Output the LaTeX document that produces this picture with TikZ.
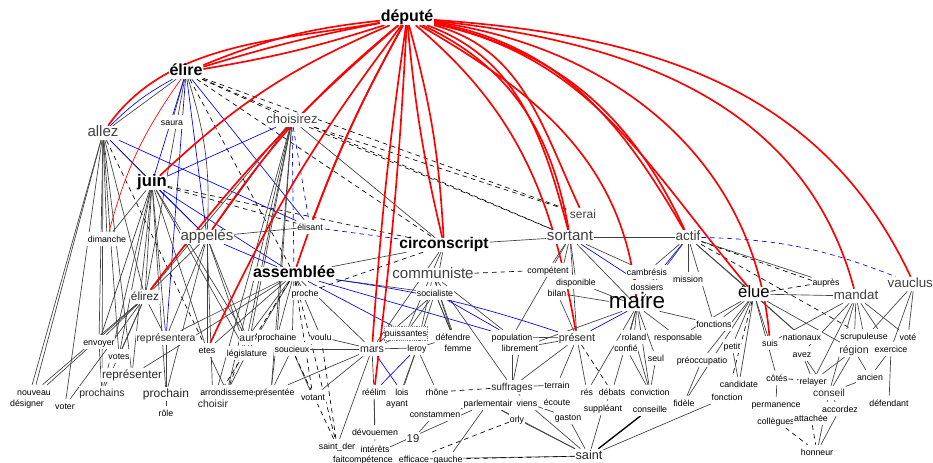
\documentclass[tikz,border=0pt]{standalone}
\usepackage{fontspec}
\setmainfont{Liberation Sans}
\usetikzlibrary{positioning,backgrounds}

\begin{document}
\begin{tikzpicture}[
  x=0.75pt, y=-0.75pt,
  every node/.style={fill=white,inner sep=0.5pt,text height=0.75em,text depth=0.2em},
  node distance=1.5pt,
  whub/.style={font=\bfseries\fontsize{12}{13}\selectfont},
  wbig/.style={font=\fontsize{11.3}{12}\selectfont,text=black!75},
  wmid/.style={font=\fontsize{8.5}{9}\selectfont,text=black!85},
  wsml/.style={font=\fontsize{6.6}{7}\selectfont},
  lnk/.style={black!75,line width=0.5pt},
  lnkb/.style={blue,line width=0.5pt},
  lnkd/.style={black,dash pattern=on 3.5pt off 3pt,line width=0.5pt},
  lnkbd/.style={blue,dash pattern=on 3.5pt off 3pt,line width=0.5pt},
  dep/.style={red,line width=1.25pt},
  ]
  \useasboundingbox (0,0) rectangle (933,463);

  \node[whub] (depute) at (407,18) {député};
  \node[whub] (elire) at (186,72) {élire};
  \node[wbig] (allez) at (103,133) {allez};
  \node[wsml] (saura) at (172,122) {saura};
  \node[wbig,font=\fontsize{9.7}{10}\selectfont] (choisirez) at (292,120) {choisirez};
  \node[whub,font=\bfseries\fontsize{12.5}{13}\selectfont] (juin) at (152,183) {juin};
  \node[wsml] (dimanche) at (107,239) {dimanche};
  \node[wbig] (appeles) at (207,237) {appelés};
  \node[wsml] (elisant) at (310,227) {élisant};
  \node[whub,font=\bfseries\fontsize{11.7}{12}\selectfont] (circonscript) at (444,245) {circonscript};
  \node[wbig,font=\fontsize{9}{10}\selectfont] (serai) at (583,215) {serai};
  \node[wbig] (sortant) at (570,237) {sortant};
  \node[wbig,font=\fontsize{10.2}{11}\selectfont] (actif) at (688,237) {actif};
  \node[whub] (assemblee) at (294,274) {assemblée};
  \node[wbig] (communiste) at (433,275) {communiste};
  \node[wsml] (competent) at (548,270) {compétent};
  \node[wsml] (cambresis) at (647,272) {cambrésis};
  \node[wsml, below=0.5pt of cambresis] (dossiers) {dossiers};
  \node[wsml] (disponible) at (576,282) {disponible};
  \node[wsml] (bilan) at (557,293) {bilan};
  \node[wsml] (mission) at (688,279) {mission};
  \node[font=\fontsize{16.8}{17}\selectfont,inner sep=0pt,text height=0.55em] (maire) at (637,306) {maire};
  \node[font=\fontsize{12.5}{13}\selectfont] (elue) at (754,294) {élue};
  \node[wsml] (aupres) at (826,282) {auprès};
  \node[wbig,font=\fontsize{10}{11}\selectfont] (mandat) at (856,296) {mandat};
  \node[wbig,font=\fontsize{10}{11}\selectfont] (vaucluse) at (914,284) {vaucluse};
  \node[wmid,font=\fontsize{8.8}{9}\selectfont] (elirez) at (145,297) {élirez};
  \node[wsml] (proche) at (305,293) {proche};
  \node[wsml] (socialiste) at (435,293) {socialiste};
  \node[wsml] (fonctions) at (714,324) {fonctions};
  \node[wsml] (envoyer) at (99,342) {envoyer};
  \node[wsml] (votes) at (119,356) {votes};
  \node[wmid,font=\fontsize{7.8}{8}\selectfont] (representera) at (166,338) {représentera};
  \node[wsml] (etes) at (207,350) {etes};
  \node[wmid,font=\fontsize{7.8}{8}\selectfont] (aur) at (247,338) {aur};
  \node[wsml] (prochaine) at (277,337) {prochaine};
  \node[wsml] (voulu) at (321,337) {voulu};
  \node[wsml] (legislature) at (247,353) {législature};
  \node[wsml] (soucieux) at (292,349) {soucieux};
  \node[wsml,draw=black!50,densely dotted] (puissantes) at (406,333) {puissantes};
  \node[wsml] (defendre) at (453,337) {défendre};
  \node[wsml] (femme) at (458,348) {femme};
  \node[wmid,font=\fontsize{8}{9}\selectfont] (mars) at (372,349) {mars};
  \node[wsml] (leroy) at (417,348) {leroy};
  \node[wsml] (population) at (512,337) {population};
  \node[wsml] (librement) at (520,348) {librement};
  \node[wmid,font=\fontsize{8.1}{9}\selectfont] (present) at (577,338) {présent};
  \node[wsml] (roland) at (634,337) {roland};
  \node[wsml] (responsable) at (678,337) {responsable};
  \node[wsml] (confie) at (626,348) {confié};
  \node[wsml] (seul) at (656,358) {seul};
  \node[wsml] (preoccupatio) at (702,360) {préoccupatio};
  \node[wsml] (petit) at (732,346) {petit};
  \node[wsml] (suis) at (770,343) {suis};
  \node[wsml] (nationaux) at (802,337) {nationaux};
  \node[wsml, below=of nationaux] (avez) {avez};
  \node[wsml] (scrupuleuse) at (864,336) {scrupuleuse};
  \node[wsml] (vote) at (908,337) {voté};
  \node[wmid,font=\fontsize{7.9}{8}\selectfont] (region) at (854,350) {région};
  \node[wsml] (exercice) at (891,349) {exercice};
  \node[wmid,font=\fontsize{8.8}{9}\selectfont] (representer) at (132,375) {représenter};
  \node[wmid,font=\fontsize{7.8}{8}\selectfont] (prochains) at (102,393) {prochains};
  \node[wsml] (nouveau) at (34,392) {nouveau};
  \node[wsml] (designer) at (27,403) {désigner};
  \node[wsml] (voter) at (65,406) {voter};
  \node[wmid,font=\fontsize{9}{10}\selectfont] (prochain) at (166,394) {prochain};
  \node[wsml] (role) at (166,413) {rôle};
  \node[wsml] (representee) at (271,392) {représentée};
  \node[wsml] (arrondisseme) at (227,392) {arrondisseme};
  \node[wmid,font=\fontsize{7.8}{8}\selectfont] (choisir) at (213,404) {choisir};
  \node[wsml] (votant) at (313,397) {votant};
  \node[wsml] (reelim) at (374,392) {réélim};
  \node[wsml] (lois) at (402,392) {lois};
  \node[wsml] (rhone) at (437,392) {rhône};
  \node[wsml] (ayant) at (397,403) {ayant};
  \node[wmid,font=\fontsize{7.6}{8}\selectfont] (suffrages) at (512,387) {suffrages};
  \node[wsml] (terrain) at (557,385) {terrain};
  \node[wsml, below=of terrain] (ecoute) {écoute};
  \node[wsml] (res) at (587,392) {rés};
  \node[wsml] (debats) at (612,392) {débats};
  \node[wsml] (conviction) at (650,392) {conviction};
  \node[wsml, below=of conviction] (conseille) {conseille};
  \node[wsml] (fidele) at (684,403) {fidèle};
  \node[wsml] (candidate) at (739,384) {candidate};
  \node[wsml] (fonction) at (727,397) {fonction};
  \node[wsml] (cotes) at (777,378) {côtés};
  \node[wsml] (relayer) at (813,381) {relayer};
  \node[wmid,font=\fontsize{7.6}{8}\selectfont] (conseil) at (829,393) {conseil};
  \node[wsml] (ancien) at (870,377) {ancien};
  \node[wsml] (defendant) at (889,403) {défendant};
  \node[wsml] (permanence) at (776,404) {permanence};
  \node[wsml, below=of permanence] (collegues) {collègues};
  \node[wsml] (attachee) at (811,418) {attachée};
  \node[wsml] (accordez) at (840,409) {accordez};
  \node[wsml] (honneur) at (817,452) {honneur};
  \node[wsml] (parlementair) at (488,403) {parlementair};
  \node[wsml] (viens) at (527,403) {viens};
  \node[wsml] (gaston) at (568,417) {gaston};
  \node[wsml] (suppleant) at (603,408) {suppléant};
  \node[wsml] (orly) at (517,419) {orly};
  \node[wsml] (constammen) at (435,414) {constammen};
  \node[wmid] (dix) at (413,439) {19};
  \node[wsml] (devouemen) at (375,432) {dévouemen};
  \node[wsml, below=of devouemen] (interets) {intérêts};
  \node[wsml] (faitcompetence) at (363,459) {faitcompétence};
  \node[wsml] (saintder) at (337,446) {saint\_der};
  \node[wsml] (efficace) at (414,459) {efficace};
  \node[wsml] (gauche) at (448,459) {gauche};
  \node[wmid,font=\fontsize{9.5}{10}\selectfont] (saint) at (589,456) {saint};

  \begin{pgfonlayer}{background}
  \draw[lnk] (elire) -- (saura);
  \draw[lnkb] (elire) -- (juin);
  \draw[lnkb] (elire) -- (appeles);
  \draw[lnk] (elire) to[bend left=10] (appeles);
  \draw[lnk] (elire) -- (allez);
  \draw[lnkb] (elire) to[bend right=8] (allez);
  \draw[lnkd] (elire) -- (choisirez);
  \draw[lnkd] (elire) -- (serai);
  \draw[lnkd] (elire) -- (sortant);
  \draw[lnkb] (elire) -- (elisant);
  \draw[lnkd] (elire) -- (assemblee);
  \draw[lnk] (elire) -- (elirez);
  \draw[lnkd] (elire) -- (circonscript);
  \draw[lnkb] (elire) -- (representera);
  \draw[lnk] (allez) -- (nouveau);
  \draw[lnk] (allez) -- (designer);
  \draw[lnk] (allez) -- (voter);
  \draw[lnk] (allez) -- (prochains);
  \draw[lnk] (allez) -- (envoyer);
  \draw[lnk] (allez) -- (votes);
  \draw[lnk] (allez) -- (representer);
  \draw[lnk] (allez) -- (dimanche);
  \draw[lnk] (allez) -- (elirez);
  \draw[lnk] (allez) -- (juin);
  \draw[lnkb] (allez) -- (appeles);
  \draw[lnkb] (allez) -- (elisant);
  \draw[lnkd] (allez) -- (etes);
  \draw[lnk] (juin) -- (dimanche);
  \draw[lnk] (juin) -- (representera);
  \draw[lnk] (juin) -- (etes);
  \draw[lnk] (juin) -- (prochain);
  \draw[lnk] (juin) -- (representer);
  \draw[lnk] (juin) -- (elirez);
  \draw[lnk] (juin) -- (envoyer);
  \draw[lnk] (juin) -- (votes);
  \draw[lnk] (juin) -- (aur);
  \draw[lnk] (juin) -- (legislature);
  \draw[lnk] (juin) -- (prochains);
  \draw[lnkb] (juin) -- (appeles);
  \draw[lnkb] (juin) -- (choisirez);
  \draw[lnkb] (juin) -- (assemblee);
  \draw[lnkd] (juin) -- (circonscript);
  \draw[lnkd] (juin) -- (elisant);
  \draw[lnk] (choisirez) -- (prochaine);
  \draw[lnk] (choisirez) -- (arrondisseme);
  \draw[lnk] (choisirez) -- (representee);
  \draw[lnk] (choisirez) -- (choisir);
  \draw[lnk] (choisirez) -- (aur);
  \draw[lnk] (choisirez) -- (legislature);
  \draw[lnk] (choisirez) -- (circonscript);
  \draw[lnk] (choisirez) -- (elirez);
  \draw[lnk] (choisirez) -- (appeles);
  \draw[lnkd] (choisirez) -- (serai);
  \draw[lnkd] (choisirez) -- (sortant);
  \draw[lnkbd] (choisirez) -- (elisant);
  \draw[lnkbd] (choisirez) -- (assemblee);
  \draw[lnk] (appeles) -- (representera);
  \draw[lnk] (appeles) -- (etes);
  \draw[lnk] (appeles) -- (aur);
  \draw[lnk] (appeles) -- (legislature);
  \draw[lnk] (appeles) -- (prochain);
  \draw[lnk] (appeles) -- (choisir);
  \draw[lnk] (appeles) -- (elirez);
  \draw[lnkb] (appeles) -- (assemblee);
  \draw[lnk] (appeles) -- (elisant);
  \draw[lnk] (assemblee) -- (proche);
  \draw[lnk] (assemblee) -- (prochaine);
  \draw[lnk] (assemblee) -- (soucieux);
  \draw[lnk] (assemblee) -- (voulu);
  \draw[lnk] (assemblee) -- (mars);
  \draw[lnk] (assemblee) -- (legislature);
  \draw[lnk] (assemblee) -- (aur);
  \draw[lnk] (assemblee) -- (etes);
  \draw[lnk] (assemblee) -- (representera);
  \draw[lnk] (assemblee) -- (representer);
  \draw[lnk] (assemblee) -- (socialiste);
  \draw[lnk] (assemblee) -- (circonscript);
  \draw[lnkb] (assemblee) -- (puissantes);
  \draw[lnkb] (assemblee) -- (population);
  \draw[lnkb] (assemblee) to[bend left=5] (present);
  \draw[lnkbd] (assemblee) -- (elisant);
  \draw[lnkd] (assemblee) -- (saintder);
  \draw[lnkd] (assemblee) -- (votant);
  \draw[lnkd] (assemblee) -- (choisir);
  \draw[lnk] (elirez) -- (nouveau);
  \draw[lnk] (elirez) -- (designer);
  \draw[lnk] (elirez) -- (envoyer);
  \draw[lnk] (elirez) -- (representera);
  \draw[lnk] (elirez) -- (prochains);
  \draw[lnk] (elirez) -- (votes);
  \draw[lnk] (elirez) -- (voter);
  \draw[lnkbd] (circonscript) -- (elisant);
  \draw[lnk] (circonscript) -- (mars);
  \draw[lnk] (circonscript) -- (puissantes);
  \draw[lnk] (circonscript) -- (sortant);
  \draw[lnk] (circonscript) -- (socialiste);
  \draw[lnkd] (circonscript) -- (proche);
  \draw[lnk] (communiste) -- (defendre);
  \draw[lnk] (communiste) -- (femme);
  \draw[lnk] (communiste) -- (leroy);
  \draw[lnk] (communiste) -- (suffrages);
  \draw[lnk] (communiste) -- (population);
  \draw[lnkd] (communiste) -- (competent);
  \draw[lnk] (socialiste) -- (mars);
  \draw[lnk] (socialiste) -- (puissantes);
  \draw[lnk] (socialiste) -- (defendre);
  \draw[lnk] (socialiste) -- (femme);
  \draw[lnk] (socialiste) -- (leroy);
  \draw[lnkb] (socialiste) -- (population);
  \draw[lnk] (sortant) -- (competent);
  \draw[lnk] (sortant) -- (cambresis);
  \draw[lnk] (sortant) -- (disponible);
  \draw[lnk] (sortant) -- (bilan);
  \draw[lnk] (sortant) -- (maire);
  \draw[lnk] (sortant) -- (actif);
  \draw[lnk] (sortant) -- (present);
  \draw[lnk] (sortant) -- (population);
  \draw[lnkb] (sortant) -- (dossiers);
  \draw[lnk] (actif) -- (mission);
  \draw[lnk] (actif) -- (elue);
  \draw[lnk] (actif) -- (cambresis);
  \draw[lnk] (actif) -- (maire);
  \draw[lnk] (actif) -- (fonctions);
  \draw[lnk] (actif) -- (nationaux);
  \draw[lnk] (actif) -- (aupres);
  \draw[lnkd] (actif) -- (mandat);
  \draw[lnkbd] (actif) to[bend left=10] (vaucluse);
  \draw[lnkd] (actif) -- (scrupuleuse);
  \draw[lnkb] (actif) -- (dossiers);
  \draw[lnk] (maire) -- (roland);
  \draw[lnk] (maire) -- (confie);
  \draw[lnk] (maire) -- (responsable);
  \draw[lnk] (maire) -- (seul);
  \draw[lnk] (maire) -- (bilan);
  \draw[lnk] (maire) -- (debats);
  \draw[lnk] (maire) -- (res);
  \draw[lnk] (maire) -- (fonctions);
  \draw[lnk] (maire) -- (conviction);
  \draw[lnk] (maire) -- (disponible);
  \draw[lnk] (maire) -- (librement);
  \draw[lnkb] (maire) -- (present);
  \draw[lnk] (present) -- (population);
  \draw[lnk] (present) -- (librement);
  \draw[lnk] (present) -- (terrain);
  \draw[lnk] (present) -- (res);
  \draw[lnk] (present) -- (suffrages);
  \draw[lnk] (present) -- (bilan);
  \draw[lnkd] (present) -- (debats);
  \draw[lnk] (elue) -- (fonctions);
  \draw[lnk] (elue) -- (petit);
  \draw[lnk] (elue) -- (suis);
  \draw[lnk] (elue) -- (candidate);
  \draw[lnk] (elue) -- (cotes);
  \draw[lnk] (elue) -- (preoccupatio);
  \draw[lnk] (elue) -- (fidele);
  \draw[lnk] (elue) -- (mandat);
  \draw[lnk] (elue) -- (nationaux);
  \draw[lnk] (elue) -- (responsable);
  \draw[lnk] (elue) -- (region);
  \draw[lnkd] (elue) -- (fonction);
  \draw[lnkd] (elue) -- (aupres);
  \draw[lnk] (mandat) -- (scrupuleuse);
  \draw[lnk] (mandat) -- (region);
  \draw[lnk] (mandat) -- (avez);
  \draw[lnk] (mandat) -- (vote);
  \draw[lnk] (mandat) -- (exercice);
  \draw[lnk] (mandat) -- (relayer);
  \draw[lnk] (mandat) -- (conseil);
  \draw[lnk] (mandat) -- (suis);
  \draw[lnk] (vaucluse) -- (vote);
  \draw[lnk] (vaucluse) -- (exercice);
  \draw[lnk] (vaucluse) -- (region);
  \draw[lnk] (region) -- (conseil);
  \draw[lnk] (region) -- (ancien);
  \draw[lnk] (region) -- (relayer);
  \draw[lnk] (exercice) -- (defendant);
  \draw[lnk] (exercice) -- (ancien);
  \draw[lnk] (conseil) -- (accordez);
  \draw[lnk] (conseil) -- (ancien);
  \draw[lnk] (accordez) -- (honneur);
  \draw[lnk] (conseil) -- (honneur);
  \draw[lnkd] (attachee) -- (honneur);
  \draw[lnkd] (collegues) -- (honneur);
  \draw[lnk] (permanence) -- (cotes);
  \draw[lnkd] (cotes) -- (relayer);
  \draw[lnk] (avez) -- (relayer);
  \draw[lnk] (avez) -- (conseil);
  \draw[lnk] (mars) -- (reelim);
  \draw[lnk] (mars) -- (leroy);
  \draw[lnk] (mars) -- (voulu);
  \draw[lnk] (mars) -- (soucieux);
  \draw[lnk] (mars) -- (votant);
  \draw[lnk] (mars) -- (saintder);
  \draw[lnk] (mars) -- (representee);
  \draw[lnk] (mars) -- (puissantes);
  \draw[lnkb] (mars) -- (lois);
  \draw[lnk] (leroy) -- (lois);
  \draw[lnk] (leroy) -- (rhone);
  \draw[lnk] (leroy) -- (ayant);
  \draw[lnk] (leroy) -- (defendre);
  \draw[lnkb] (leroy) -- (reelim);
  \draw[lnk] (reelim) -- (devouemen);
  \draw[lnk] (reelim) -- (interets);
  \draw[lnk] (constammen) -- (dix);
  \draw[lnk] (saint) -- (orly);
  \draw[lnk] (saint) -- (gaston);
  \draw[lnk] (saint) -- (suppleant);
  \draw[lnk] (saint) -- (parlementair);
  \draw[black,line width=1pt] (saint) -- (conseille);
  \draw[lnk] (saint) -- (fonction);
  \draw[lnk] (saint) -- (efficace);
  \draw[lnk] (saint) -- (viens);
  \draw[lnkd] (saint) -- (gauche);
  \draw[lnk] (parlementair) -- (orly);
  \draw[lnk] (parlementair) -- (constammen);
  \draw[lnk] (parlementair) -- (faitcompetence);
  \draw[lnk] (parlementair) -- (gauche);
  \draw[lnkd] (orly) -- (efficace);
  \draw[lnk] (suffrages) -- (population);
  \draw[lnk] (suffrages) -- (librement);
  \draw[lnk] (suffrages) -- (terrain);
  \draw[lnk] (suffrages) -- (viens);
  \draw[lnkd] (suffrages) -- (rhone);
  \draw[lnk] (gaston) -- (viens);
  \draw[lnk] (suppleant) -- (debats);
  \draw[lnk] (conviction) -- (seul);
  \draw[lnk] (conviction) -- (confie);
  \draw[lnk] (conviction) -- (roland);
  \draw[lnk] (fidele) -- (preoccupatio);
  \draw[lnk] (candidate) -- (petit);
  \draw[lnk] (prochain) -- (representera);
  \draw[lnk] (prochain) -- (role);
  \draw[lnk] (prochains) -- (envoyer);
  \draw[lnk] (arrondisseme) -- (etes);
  \draw[lnk] (arrondisseme) -- (legislature);
  \draw[lnkd] (arrondisseme) -- (aur);
  \draw[lnk] (representee) -- (soucieux);
  \draw[lnk] (representee) -- (prochaine);
  \draw[lnk] (votant) -- (soucieux);
  \draw[lnkd] (saintder) -- (voulu);
  \draw[lnkd] (saintder) -- (soucieux);
  \draw[red,line width=0.5pt] (elire) to[bend right=10] (dimanche);

  \draw[dep] (depute) to[out=190,in=55,looseness=0.9] (allez);
  \draw[dep] (depute) to[bend right=8] (elire);
  \draw[dep] (depute) to[bend right=3] (elire);
  \draw[dep] (depute) to[bend left=4] (elire);
  \draw[dep] (depute) to[bend right=10] (juin);
  \draw[dep] (depute) to[bend right=8] (appeles);
  \draw[dep] (depute) to[bend right=6] (elirez);
  \draw[dep] (depute) to[bend right=6] (etes);
  \draw[dep] (depute) to[bend right=5] (assemblee);
  \draw[dep] (depute) to[bend right=4] (elisant);
  \draw[dep] (depute) to[bend right=2] (mars);
  \draw[dep] (depute) to[bend left=2] (reelim);
  \draw[dep] (depute) to[bend right=4] (circonscript);
  \draw[dep] (depute) to[bend left=6] (circonscript);
  \draw[dep] (depute) to[out=-20,in=105] (sortant);
  \draw[dep] (depute) to[out=-25,in=100] (sortant);
  \draw[dep] (depute) to[out=-15,in=115] (serai);
  \draw[dep] (depute) to[out=-30,in=95] (maire);
  \draw[dep] (depute) to[out=-40,in=100] (present);
  \draw[dep] (depute) to[out=-10,in=120] (actif);
  \draw[dep] (depute) to[out=-12,in=115] (actif);
  \draw[dep] (depute) to[out=-12,in=130] (elue);
  \draw[dep] (depute) to[out=-8,in=95] (suis);
  \draw[dep] (depute) to[out=-6,in=105] (mandat);
  \draw[dep] (depute) to[out=-4,in=115] (vaucluse);
  \end{pgfonlayer}
\end{tikzpicture}
\end{document}
